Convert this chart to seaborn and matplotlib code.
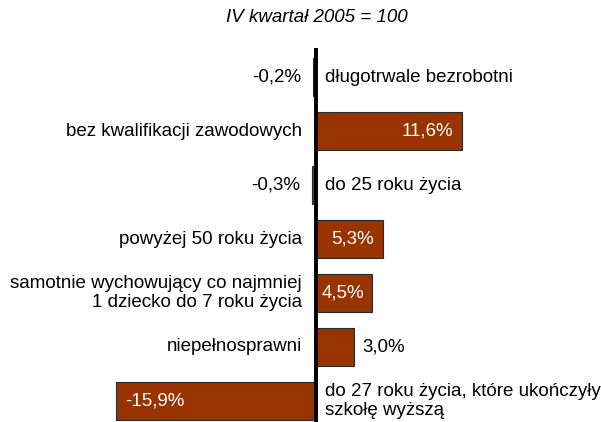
import matplotlib
matplotlib.use('Agg')
import matplotlib.pyplot as plt
import seaborn as sns

# IV kwartal 2005 = 100, zmiana w %
categories = [
    'długotrwale bezrobotni',
    'bez kwalifikacji zawodowych',
    'do 25 roku życia',
    'powyżej 50 roku życia',
    'samotnie wychowujący co najmniej\n1 dziecko do 7 roku życia',
    'niepełnosprawni',
    'do 27 roku życia, które ukończyły\nszkołę wyższą',
]
values = [-0.2, 11.6, -0.3, 5.3, 4.5, 3.0, -15.9]
title = 'IV kwartał 2005 = 100'

sns.set_style('white')
plt.rcParams['font.family'] = ['Liberation Sans', 'DejaVu Sans']
plt.rcParams['text.color'] = 'black'
FS = 13.5

fig = plt.figure(figsize=(6.01, 4.22), dpi=100)
ax = fig.add_axes([0, 0, 1, 1 - 48 / 422])

sns.barplot(x=values, y=categories, orient='h', color='#993300', saturation=1,
            edgecolor='#2a2a2a', linewidth=0.8, width=0.7, ax=ax)

ax.set_xlim(-25.18, 22.71)
ax.set_ylim(6.39, -0.54)
ax.axvline(0, color='black', lw=2.8, zorder=5)
ax.set_axis_off()

for i, (cat, v) in enumerate(zip(categories, values)):
    lab = f'{v:.1f}%'.replace('.', ',')
    # category label on the side opposite to the bar
    if v >= 0:
        ax.annotate(cat, (0, i), xytext=(-10, 0), textcoords='offset points',
                    ha='right', va='center', fontsize=FS, linespacing=1.15)
    else:
        ax.annotate(cat, (0, i), xytext=(6.5, 0), textcoords='offset points',
                    ha='left', va='center', fontsize=FS, linespacing=1.15)
    # value label: inside long bars, outside short ones
    if abs(v) >= 4:
        off = -6 if v > 0 else 6
        ax.annotate(lab, (v, i), xytext=(off, 0), textcoords='offset points',
                    ha='right' if v > 0 else 'left', va='center',
                    fontsize=FS, color='white')
    else:
        off = 6.5 if v > 0 else -9
        ax.annotate(lab, (v, i), xytext=(off, 0), textcoords='offset points',
                    ha='left' if v > 0 else 'right', va='center', fontsize=FS)

fig.text(317 / 601, 1 - 18 / 422, title, ha='center', va='center',
         fontsize=FS, style='italic')

fig.savefig('out.png', dpi=100)
